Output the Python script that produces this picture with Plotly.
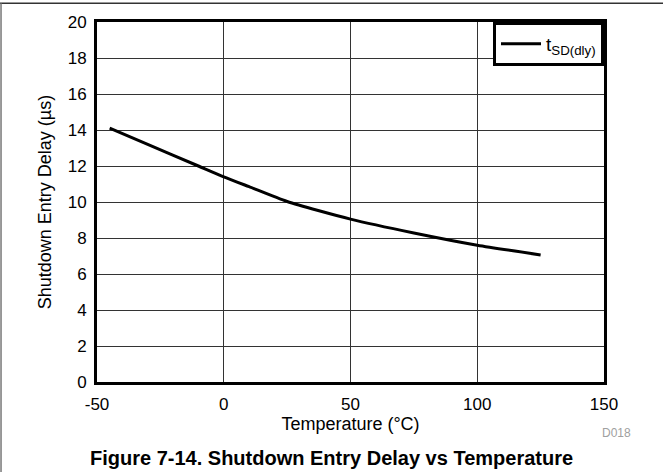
import plotly.graph_objects as go

# Shutdown entry delay measured across temperature
temperature_c = [-45, -30, -10, 0, 10, 25, 50, 75, 100, 125]
t_sd_dly_us = [14.1, 13.2, 12.0, 11.4, 10.85, 10.03, 9.05, 8.28, 7.6, 7.06]

x_ticks = [-50, 0, 50, 100, 150]
y_ticks = [0, 2, 4, 6, 8, 10, 12, 14, 16, 18, 20]

FONT = "Liberation Sans, Arial, Helvetica, sans-serif"

fig = go.Figure()
fig.add_trace(go.Scatter(
    x=temperature_c,
    y=t_sd_dly_us,
    mode="lines",
    line=dict(color="black", width=3, shape="spline", smoothing=0.6),
    name="t<sub>SD(dly)</sub>",
    showlegend=True,
))

axis_common = dict(
    showline=True, mirror=True, linecolor="black", linewidth=3,
    showgrid=True, gridcolor="#333333", gridwidth=1,
    ticks="", zeroline=False,
    tickfont=dict(family=FONT, size=17, color="black"),
)

fig.update_xaxes(
    range=[-50, 150], tickvals=x_ticks, ticktext=[str(v) for v in x_ticks],
    title=dict(text="Temperature (°C)", standoff=4,
               font=dict(family=FONT, size=18, color="black")),
    ticklabelstandoff=5,
    **axis_common,
)
fig.update_yaxes(
    range=[0, 20], tickvals=y_ticks, ticktext=[str(v) for v in y_ticks],
    title=dict(text="Shutdown Entry Delay (µs)", standoff=12,
               font=dict(family=FONT, size=18, color="black")),
    ticklabelstandoff=4,
    **axis_common,
)

fig.update_layout(
    width=663, height=472,
    margin=dict(l=97, r=59, t=22, b=90),
    paper_bgcolor="white", plot_bgcolor="white",
    font=dict(family=FONT, size=17, color="black"),
    legend=dict(
        x=1, y=1, xanchor="right", yanchor="top",
        bgcolor="white", bordercolor="black", borderwidth=3,
        font=dict(family=FONT, size=19, color="black"),
        itemwidth=40,
    ),
    shapes=[
        # page frame (top and left edges)
        dict(type="line", xref="paper", yref="paper",
             x0=-0.195, x1=1.2, y0=1.052, y1=1.052,
             line=dict(color="#333333", width=1.5)),
        dict(type="line", xref="paper", yref="paper",
             x0=-0.1893, x1=-0.1893, y0=-0.3, y1=1.052,
             line=dict(color="#777777", width=1.5)),
    ],
    annotations=[
        dict(text="D018", xref="paper", yref="paper", x=1.0237, y=-0.1425,
             showarrow=False, xanchor="center", yanchor="middle",
             font=dict(family=FONT, size=12, color="#a0a0a0")),
        dict(text="<b>Figure 7-14. Shutdown Entry Delay vs Temperature</b>",
             xref="paper", yref="paper", x=0.4625, y=-0.212,
             showarrow=False, xanchor="center", yanchor="middle",
             font=dict(family=FONT, size=20, color="black")),
    ],
)

fig.write_html("out.html")
